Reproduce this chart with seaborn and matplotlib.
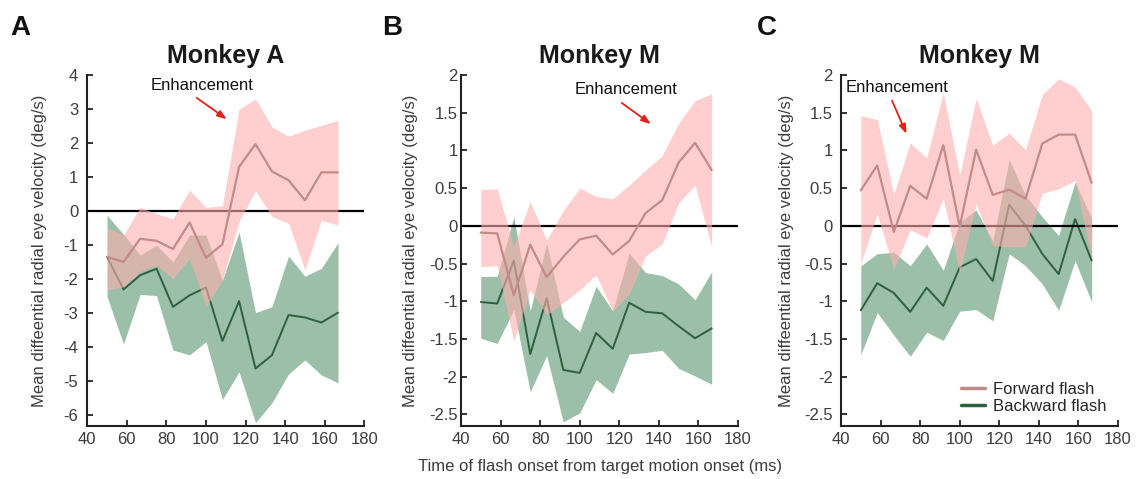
import numpy as np
import pandas as pd
import matplotlib
matplotlib.use("Agg")
import matplotlib.pyplot as plt
from matplotlib.lines import Line2D
import seaborn as sns

# ---------------- data ----------------
flash_time_ms = [50, 58.3, 66.7, 75, 83.3, 91.7, 100, 108.3, 116.7, 125, 133.3, 141.7, 150, 158.3, 166.7]

# Panel A (Monkey A)
a_fwd_mean = [-1.34, -1.49, -0.81, -0.87, -1.11, -0.33, -1.37, -0.97, 1.30, 1.97, 1.17, 0.91, 0.32, 1.14, 1.14]
a_fwd_hi   = [-0.48, -0.70, 0.11, -0.07, -0.22, 0.62, 0.11, 0.16, 2.99, 3.30, 2.48, 2.20, 2.38, 2.52, 2.67]
a_fwd_lo   = [-2.32, -2.22, -1.78, -1.58, -1.98, -1.39, -2.80, -2.03, -0.30, 0.60, -0.15, -0.35, -1.72, -0.27, -0.41]
a_bwd_mean = [-1.34, -2.30, -1.88, -1.69, -2.81, -2.47, -2.24, -3.81, -2.64, -4.62, -4.23, -3.05, -3.12, -3.27, -2.98]
a_bwd_hi   = [-0.12, -0.68, -1.29, -1.00, -1.49, -0.70, -0.70, -2.03, -0.61, -2.98, -2.81, -1.32, -1.91, -1.68, -0.93]
a_bwd_lo   = [-2.51, -3.90, -2.44, -2.48, -4.08, -4.22, -3.83, -5.53, -4.72, -6.21, -5.63, -4.78, -4.37, -4.81, -5.04]

# Panel B (Monkey M)
b_fwd_mean = [-0.09, -0.10, -0.92, -0.25, -0.68, -0.41, -0.18, -0.13, -0.38, -0.20, 0.17, 0.34, 0.84, 1.10, 0.74]
b_fwd_hi   = [0.48, 0.49, -0.27, 0.32, -0.19, 0.20, 0.50, 0.39, 0.36, 0.54, 0.74, 0.93, 1.36, 1.66, 1.75]
b_fwd_lo   = [-0.54, -0.53, -1.53, -0.85, -1.18, -1.02, -0.85, -0.65, -1.13, -0.91, -0.40, -0.24, 0.30, 0.54, -0.28]
b_bwd_mean = [-1.01, -1.03, -0.46, -1.70, -0.96, -1.91, -1.95, -1.42, -1.63, -1.02, -1.14, -1.16, -1.33, -1.49, -1.36]
b_bwd_hi   = [-0.67, -0.67, 0.12, -1.13, -0.23, -1.21, -1.40, -0.80, -1.13, -0.36, -0.62, -0.66, -0.77, -0.98, -0.61]
b_bwd_lo   = [-1.49, -1.56, -1.11, -2.20, -1.72, -2.60, -2.48, -2.04, -2.22, -1.70, -1.68, -1.65, -1.89, -1.99, -2.10]

# Panel C (Monkey M)
c_fwd_mean = [0.47, 0.80, -0.08, 0.53, 0.36, 1.07, -0.01, 1.01, 0.41, 0.48, 0.36, 1.09, 1.21, 1.21, 0.57]
c_fwd_hi   = [1.46, 1.41, 0.42, 1.10, 0.90, 1.77, 0.67, 1.69, 1.07, 1.23, 1.01, 1.74, 1.95, 1.84, 1.53]
c_fwd_lo   = [-0.50, 0.16, -0.58, -0.05, -0.16, 0.36, -0.62, 0.29, -0.26, -0.28, -0.28, 0.43, 0.49, 0.60, -0.44]
c_bwd_mean = [-1.12, -0.76, -0.89, -1.14, -0.82, -1.06, -0.55, -0.44, -0.73, 0.28, 0.00, -0.37, -0.64, 0.09, -0.46]
c_bwd_hi   = [-0.53, -0.37, -0.35, -0.53, -0.24, -0.59, 0.05, 0.21, -0.20, 0.88, 0.40, 0.12, -0.13, 0.58, 0.10]
c_bwd_lo   = [-1.71, -1.15, -1.45, -1.73, -1.41, -1.52, -1.13, -1.11, -1.26, -0.37, -0.53, -0.77, -1.12, -0.46, -1.01]

panel_letters = ["A", "B", "C"]
panel_titles = ["Monkey A", "Monkey M", "Monkey M"]
x_ticks = [40, 60, 80, 100, 120, 140, 160, 180]
a_y_ticks = [-6, -5, -4, -3, -2, -1, 0, 1, 2, 3, 4]
bc_y_ticks = [-2.5, -2, -1.5, -1, -0.5, 0, 0.5, 1, 1.5, 2]
series_names = ["Forward flash", "Backward flash"]
ylabel_text = "Mean diffeential radial eye velocity (deg/s)"
xlabel_text = "Time of flash onset from target motion onset (ms)"
annot_text = "Enhancement"

# ---------------- style ----------------
sns.set_style("ticks")
plt.rcParams["font.family"] = ["Liberation Sans", "DejaVu Sans"]
plt.rcParams["axes.unicode_minus"] = False

PINK_FILL = "#ffafaf"
PINK_LINE = "#c48a8a"
GREEN_FILL = "#9bbfa8"
GREEN_LINE = "#2e6040"
GRAY = "#3c3c3c"
SPINE = "#222222"

fig = plt.figure(figsize=(11.38, 4.79), dpi=100)
W, H = 1138, 479
lefts = [87.3, 461, 841]
ax_w = 277
top, bottom = 75, 425.7
ytick_pads = [6.5, 2.5, 6.0]
ylabel_x = [-0.147, -0.155, -0.170]

panels = [
    (a_fwd_mean, a_fwd_lo, a_fwd_hi, a_bwd_mean, a_bwd_lo, a_bwd_hi, a_y_ticks, (-6.3, 4),
     (97.8, 3.68), (95.3, 3.33), (110.5, 2.70)),
    (b_fwd_mean, b_fwd_lo, b_fwd_hi, b_bwd_mean, b_bwd_lo, b_bwd_hi, bc_y_ticks, (-2.65, 2),
     (123.4, 1.81), (121.2, 1.63), (136.0, 1.35)),
    (c_fwd_mean, c_fwd_lo, c_fwd_hi, c_bwd_mean, c_bwd_lo, c_bwd_hi, bc_y_ticks, (-2.65, 2),
     (68.1, 1.83), (65.8, 1.66), (73.1, 1.22)),
]

def fmt(v):
    if float(v).is_integer():
        return "%d" % int(v)
    return ("%g" % v)

axes = []
for i, (fm, flo, fhi, bm, blo, bhi, yt, ylim, tpos, astart, aend) in enumerate(panels):
    ax = fig.add_axes([lefts[i] / W, 1 - bottom / H, ax_w / W, (bottom - top) / H])
    axes.append(ax)
    df = pd.DataFrame({"t": flash_time_ms, "fm": fm, "bm": bm})
    # backward band + line (underneath)
    ax.fill_between(flash_time_ms, blo, bhi, color=GREEN_FILL, linewidth=0, zorder=1)
    sns.lineplot(data=df, x="t", y="bm", ax=ax, color=GREEN_LINE, linewidth=1.4, zorder=2)
    # zero line
    ax.axhline(0, color="black", linewidth=1.6, zorder=2.5)
    # forward band on top with transparency
    ax.fill_between(flash_time_ms, flo, fhi, color=PINK_FILL, alpha=0.6, linewidth=0, zorder=3)
    sns.lineplot(data=df, x="t", y="fm", ax=ax, color=PINK_LINE, linewidth=1.6, zorder=4)

    ax.set_xlim(40, 180)
    ax.set_ylim(*ylim)
    ax.set_xticks(x_ticks)
    ax.set_xticklabels([fmt(v) for v in x_ticks])
    ax.set_yticks(yt)
    ax.set_yticklabels([fmt(v) for v in yt])
    ax.tick_params(axis="both", direction="in", length=4, width=1.3, colors=SPINE,
                   labelcolor=GRAY, labelsize=12)
    ax.tick_params(axis="y", pad=ytick_pads[i])
    ax.tick_params(axis="x", pad=4.5)
    for s in ["top", "right"]:
        ax.spines[s].set_visible(False)
    for s in ["left", "bottom"]:
        ax.spines[s].set_color(SPINE)
        ax.spines[s].set_linewidth(1.5)
    ax.set_xlabel("")
    ax.set_ylabel(ylabel_text, fontsize=12, color=GRAY)
    ax.yaxis.set_label_coords(ylabel_x[i], 0.5)
    ax.set_title(panel_titles[i], fontsize=18, fontweight="bold", color="#1a1a1a", pad=9)

    ax.text(tpos[0], tpos[1], annot_text, ha="center", va="center", fontsize=12, color="#111111")
    ax.annotate("", xy=aend, xytext=astart,
                arrowprops=dict(arrowstyle="-|>,head_length=0.55,head_width=0.2",
                                color="#e32119", lw=1.3, shrinkA=0, shrinkB=0))

# legend in panel C
handles = [Line2D([0], [0], color=PINK_LINE, lw=2.5),
           Line2D([0], [0], color=GREEN_LINE, lw=2.5)]
axes[2].legend(handles, series_names, loc="lower right", bbox_to_anchor=(1.0, 0.0),
               frameon=False, fontsize=12, handlelength=1.4, handletextpad=0.5,
               labelspacing=0.15, borderaxespad=0.3)

# panel letters
letter_x = [10, 382, 757]
for lx, lt in zip(letter_x, panel_letters):
    fig.text(lx / W, 1 - 35 / H, lt, fontsize=20, fontweight="bold", color="#111111",
             ha="left", va="baseline")

fig.text(600 / W, 1 - 466 / H, xlabel_text, ha="center", va="center", fontsize=12, color=GRAY)

fig.savefig("out.png", dpi=100)
